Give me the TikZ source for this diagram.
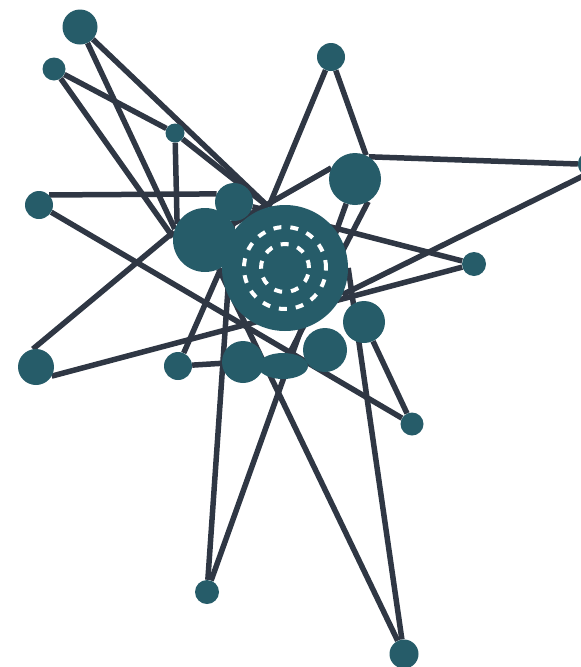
\documentclass[tikz,border=0pt]{standalone}
\usetikzlibrary{backgrounds,shapes.geometric}
\definecolor{nodeteal}{HTML}{265C69}
\definecolor{edgedark}{HTML}{2F3744}

\begin{document}
\begin{tikzpicture}[x=1pt,y=-1pt,
  vtx/.style={circle,fill=nodeteal,inner sep=0pt,minimum size=#1},
  lnk/.style={draw=edgedark,line width=5.5pt}]
  \useasboundingbox (0,0) rectangle (581,667);
  \node[vtx=35pt] (a) at (80,27) {};
  \node[vtx=23pt] (b) at (54,69) {};
  \node[vtx=19pt] (c) at (175,133) {};
  \node[vtx=28pt] (d) at (331,57) {};
  \node[vtx=52pt] (e) at (355,179) {};
  \node[vtx=28pt] (f) at (39,205) {};
  \node[vtx=28pt] (g) at (592,164) {};
  \node[vtx=24pt] (h) at (474,264) {};
  \node[vtx=36pt] (i) at (36,367) {};
  \node[vtx=28pt] (j) at (178,366) {};
  \node[vtx=23pt] (k) at (412,424) {};
  \node[vtx=24pt] (l) at (207,592) {};
  \node[vtx=29pt] (m) at (404,654) {};
  \node[vtx=38pt] (n1) at (234,202) {};
  \node[vtx=64pt] (n2) at (205,240) {};
  \node[vtx=126pt] (core) at (285,268) {};
  \node[vtx=42pt] (q1) at (243,362) {};
  \node[ellipse,fill=nodeteal,inner sep=0pt,minimum width=50pt,minimum height=26pt] (q2) at (283,366) {};
  \node[vtx=44pt] (q3) at (325,350) {};
  \node[vtx=42pt] (q4) at (364,322) {};
  \draw[white,line width=4pt,dash pattern=on 8pt off 9pt] (core) circle (41pt) (core) circle (24pt);
  \begin{scope}[on background layer]
    \draw[lnk] (a) -- (core.105);
    \draw[lnk] (a) -- (n2.160);
    \draw[lnk] (b) -- (c);
    \draw[lnk] (c) -- (core.105);
    \draw[lnk] (b) -- (n2.175);
    \draw[lnk] (c) -- (n2.150);
    \draw[lnk] (d) -- (core.105);
    \draw[lnk] (d) -- (e.65);
    \draw[lnk] (e.58) -- (g.west);
    \draw[lnk] (g.235) -- (core.-25);
    \draw[lnk] (e.155) -- (n2);
    \draw[lnk] (e.-60) -- (q2);
    \draw[lnk] (f.45) -- (n1.155);
    \draw[lnk] (f) -- (k);
    \draw[lnk] (n1) -- (h);
    \draw[lnk] (i.-30) -- (h);
    \draw[lnk] (i.100) -- (n2.165);
    \draw[lnk] (j) -- (n2.300);
    \draw[lnk] (j) -- (q1);
    \draw[lnk] (l) -- (n1);
    \draw[lnk] (l) -- (e);
    \draw[lnk] (m) -- (n2);
    \draw[lnk] (m) -- (core.east);
    \draw[lnk] (k) -- (q4);
  \end{scope}
\end{tikzpicture}
\end{document}
